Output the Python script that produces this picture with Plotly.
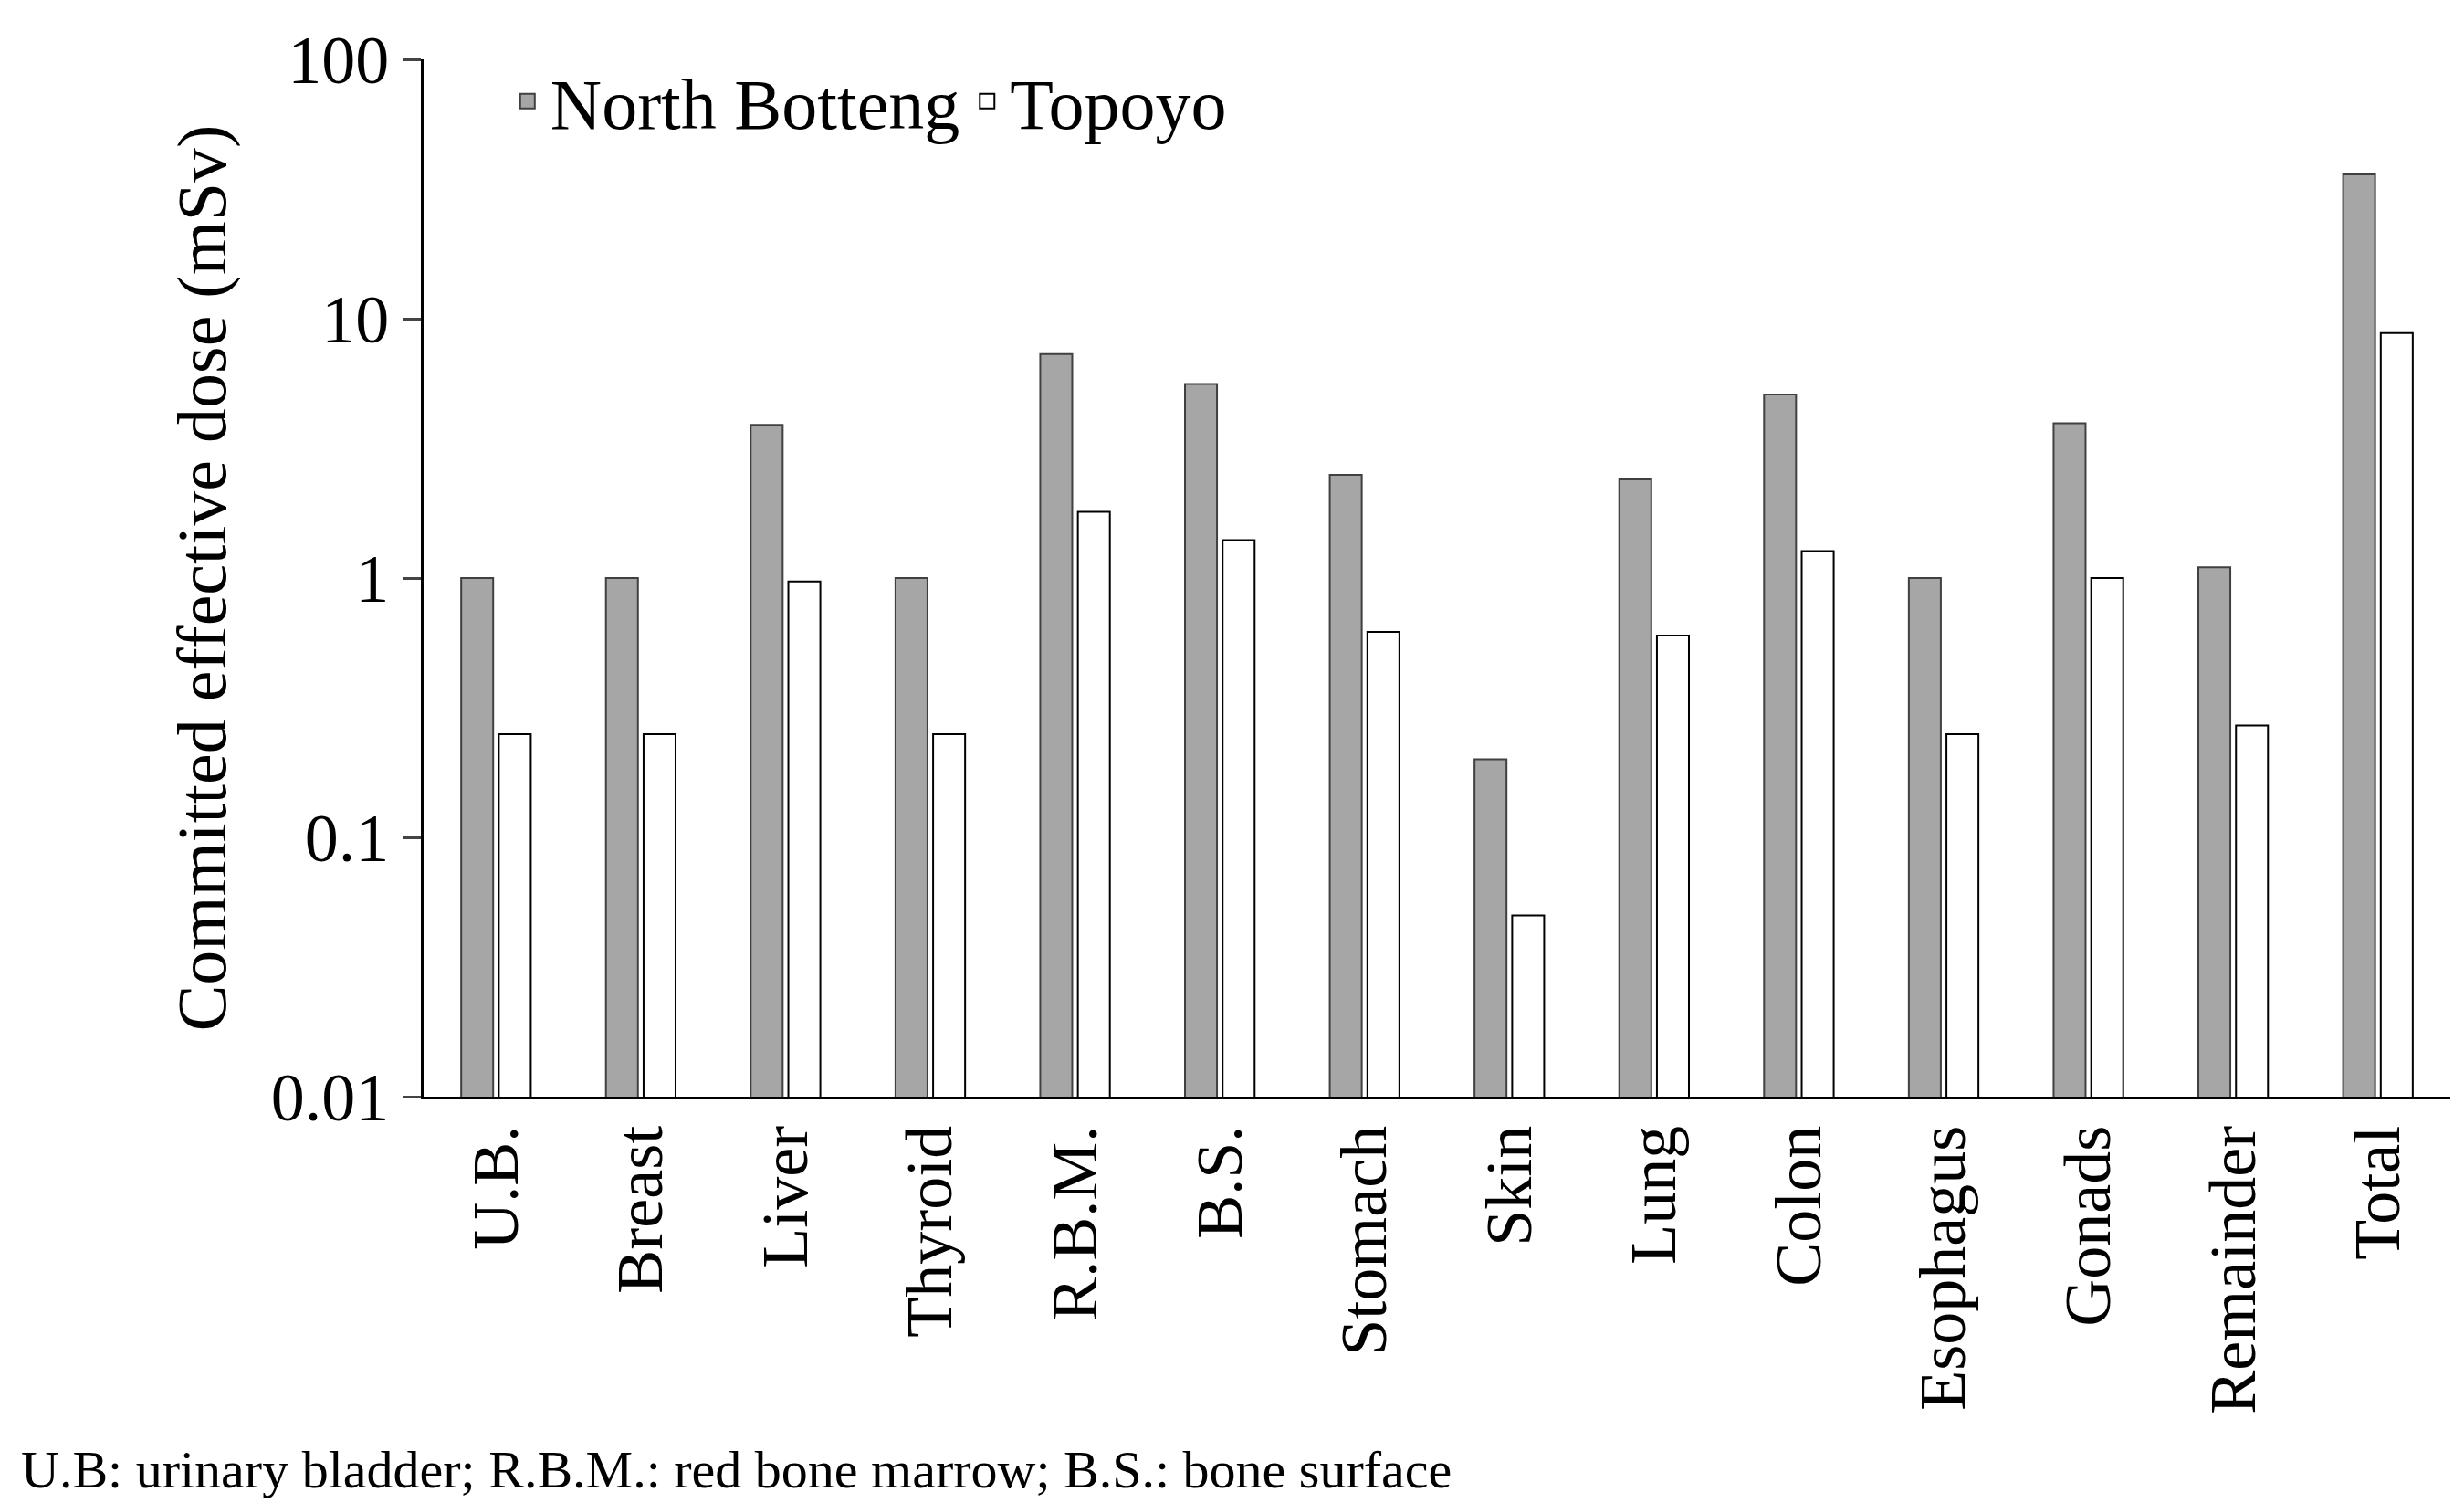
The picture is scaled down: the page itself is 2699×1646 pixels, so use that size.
import plotly.graph_objects as go

categories = ["U.B.", "Breast", "Liver", "Thyroid", "R.B.M.", "B.S.", "Stomach", "Skin",
              "Lung", "Colon", "Esophagus", "Gonads", "Remainder", "Total"]
north_botteng = [1.0, 1.0, 3.9, 1.0, 7.3, 5.6, 2.5, 0.2, 2.4, 5.1, 1.0, 3.95, 1.1, 36]
topoyo = [0.25, 0.25, 0.97, 0.25, 1.8, 1.4, 0.62, 0.05, 0.6, 1.27, 0.25, 1.0, 0.27, 8.8]
tick_vals = [0.01, 0.1, 1, 10, 100]
tick_text = ["0.01", "0.1", "1", "10", "100"]

F = "Liberation Serif, Times New Roman, serif"
fig = go.Figure()
fig.add_bar(x=categories, y=north_botteng, name="North Botteng", showlegend=False,
            marker=dict(color="#a6a6a6", line=dict(color="#404040", width=2)))
fig.add_bar(x=categories, y=topoyo, name="Topoyo", showlegend=False,
            marker=dict(color="white", line=dict(color="black", width=2)))
# legend entries with large square swatches
fig.add_scatter(x=[None], y=[None], mode="markers", name="North Botteng",
                marker=dict(symbol="square", size=44, color="#a6a6a6",
                            line=dict(color="#404040", width=2)))
fig.add_scatter(x=[None], y=[None], mode="markers", name="Topoyo",
                marker=dict(symbol="square", size=44, color="white",
                            line=dict(color="black", width=2)))
fig.update_layout(
    width=2699, height=1646, plot_bgcolor="white", paper_bgcolor="white",
    margin=dict(l=456, r=23, t=57, b=453),
    barmode="group", bargap=0.48, bargroupgap=0.15,
    font=dict(family=F, color="black", size=72),
    legend=dict(orientation="h", x=0.04, y=1.01, yanchor="top", xanchor="left",
                font=dict(family=F, size=78), bgcolor="rgba(0,0,0,0)", itemwidth=40),
    xaxis=dict(showline=True, linecolor="black", linewidth=3, tickangle=-90,
               ticks="", tickfont=dict(family=F, size=72)),
    yaxis=dict(type="log", range=[-2, 2], tickvals=tick_vals, ticktext=tick_text,
               showline=True, linecolor="black", linewidth=3, ticks="outside",
               ticklen=20, tickwidth=3, showgrid=False, tickfont=dict(family=F, size=74),
               title=dict(text="Committed effective dose (mSv)", font=dict(family=F, size=76), standoff=25)),
    annotations=[dict(text="U.B: urinary bladder; R.B.M.: red bone marrow; B.S.: bone surface",
                      xref="paper", yref="paper", x=-456/2220+0.006, y=-0.36,
                      xanchor="left", yanchor="middle", showarrow=False,
                      font=dict(family=F, size=58))],
)
fig.write_html("out.html")
